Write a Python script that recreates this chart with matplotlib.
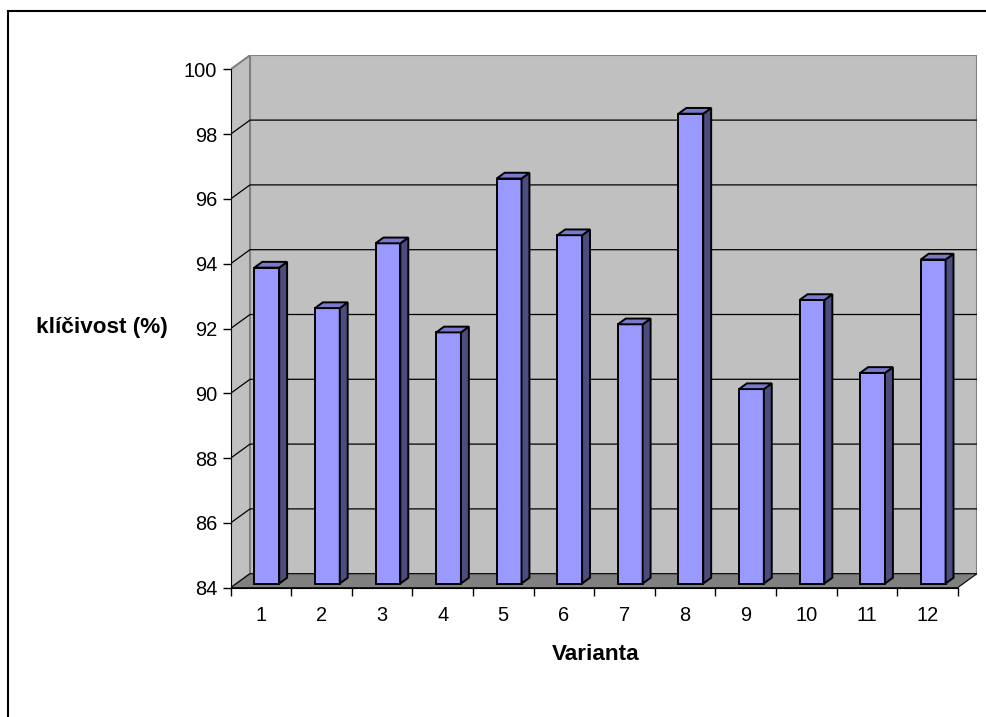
import matplotlib
matplotlib.use('Agg')
import matplotlib.pyplot as plt
from matplotlib.patches import Polygon, Rectangle
import numpy as np

plt.rcParams['font.family'] = ['Liberation Sans', 'DejaVu Sans']

# data
varianty = list(range(1, 13))
varianty_labels = [str(v) for v in varianty]
klicivost = [93.75, 92.5, 94.5, 91.75, 96.5, 94.75, 92.0, 98.5, 90.0, 92.75, 90.5, 94.0]
y_ticks = [84, 86, 88, 90, 92, 94, 96, 98, 100]

W, H = 986, 717
fig = plt.figure(figsize=(W / 100, H / 100), dpi=100)

# front plane of the 3d box, in pixels
x0, y0 = 230.7, 587.7
px_cat, px_unit = 60.58, 32.4
dxp, dyp = 19.3, 14.0
DX, DY = dxp / px_cat, dyp / px_unit

n = len(klicivost)
xmin, xmax = 0.5, n + 0.5
ymin, ymax = y_ticks[0], y_ticks[-1]

ax = fig.add_axes([x0 / W, (H - y0) / H,
                   ((xmax - xmin) * px_cat + dxp) / W,
                   ((ymax - ymin) * px_unit + dyp) / H])
ax.set_facecolor('none')


def proj(x, y, d):
    return (x + d * DX, y + d * DY)


wall_c = '#C0C0C0'
edge_c = '#808080'

# back wall, left wall, floor
ax.add_patch(Polygon([proj(xmin, ymin, 1), proj(xmax, ymin, 1), proj(xmax, ymax, 1), proj(xmin, ymax, 1)],
                     closed=True, fc=wall_c, ec=edge_c, lw=1.5, zorder=1))
ax.add_patch(Polygon([proj(xmin, ymin, 0), proj(xmin, ymin, 1), proj(xmin, ymax, 1), proj(xmin, ymax, 0)],
                     closed=True, fc=wall_c, ec=edge_c, lw=1.5, zorder=1))
ax.add_patch(Polygon([proj(xmin, ymin, 0), proj(xmax, ymin, 0), proj(xmax, ymin, 1), proj(xmin, ymin, 1)],
                     closed=True, fc='#808080', ec='black', lw=0.8, zorder=1.5))

# gridlines on left and back wall
for v in y_ticks[1:-1]:
    ax.plot([xmin, xmin + DX, xmax + DX], [v, v + DY, v + DY], color='black', lw=0.9, zorder=2)

# bars
bw = 0.41
d0, d1 = 0.3, 0.71
front_c, top_c, side_c = '#9999FF', '#7A7ACC', '#4C4C80'
xs = np.array(varianty) + d0 * DX
ax.bar(xs, np.array(klicivost) - ymin, bottom=ymin + d0 * DY, width=bw,
       color=front_c, edgecolor='black', linewidth=1.4, zorder=3)
for x, v in zip(varianty, klicivost):
    xl, xr = x - bw / 2, x + bw / 2
    side = [proj(xr, ymin, d0), proj(xr, ymin, d1), proj(xr, v, d1), proj(xr, v, d0)]
    top = [proj(xl, v, d0), proj(xr, v, d0), proj(xr, v, d1), proj(xl, v, d1)]
    ax.add_patch(Polygon(side, closed=True, fc=side_c, ec='black', lw=1.4, zorder=3))
    ax.add_patch(Polygon(top, closed=True, fc=top_c, ec='black', lw=1.4, zorder=3))

ax.set_xlim(xmin, xmax + DX)
ax.set_ylim(ymin, ymax + DY)

for s in ['top', 'right']:
    ax.spines[s].set_visible(False)
ax.spines['left'].set_bounds(ymin, ymax)
ax.spines['bottom'].set_bounds(xmin, xmax)
ax.spines['left'].set_zorder(4)
ax.spines['bottom'].set_zorder(4)

ax.set_yticks(y_ticks)
ax.tick_params(axis='y', direction='out', length=5.8, width=1, pad=4, labelsize=14.4)
ax.set_xticks(np.arange(xmin, xmax + 0.01, 1))
ax.set_xticklabels([])
ax.set_xticks(varianty, minor=True)
ax.set_xticklabels(varianty_labels, minor=True)
ax.tick_params(axis='x', which='major', direction='out', length=5.8, width=1)
ax.tick_params(axis='x', which='minor', length=0, pad=13, labelsize=14.4)

fig.text(102 / W, 1 - 328 / H, 'klíčivost (%)', ha='center', va='center',
         fontweight='bold', fontsize=16.2)
fig.text(596 / W, 1 - 655 / H, 'Varianta', ha='center', va='center',
         fontweight='bold', fontsize=16.2)

# outer chart frame (cut off at right and bottom)
fig.add_artist(Rectangle((8 / W, -0.1), 1.2, (H - 11) / H + 0.1, transform=fig.transFigure,
                         fill=False, ec='black', lw=1.5))

fig.savefig('out.png', dpi=100)
